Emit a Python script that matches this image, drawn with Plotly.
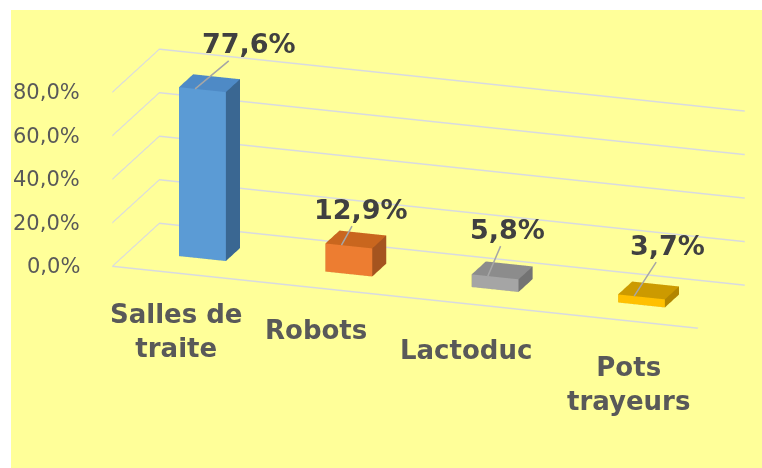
import plotly.graph_objects as go

categories = ["Salles de<br>traite", "Robots", "Lactoduc", "Pots<br>trayeurs"]
values = [77.6, 12.9, 5.8, 3.7]
tick_values = [0, 20, 40, 60, 80]
tick_labels = ["0,0%", "20,0%", "40,0%", "60,0%", "80,0%"]

# style: front, side, top colors per bar
front_colors = ["#5B9BD5", "#ED7D31", "#A5A5A5", "#FFC000"]
side_colors = ["#3A6792", "#A5541F", "#737373", "#B38600"]
top_colors = ["#4E8AC6", "#C9661E", "#8C8C8C", "#CC9A00"]

# style: label pixel offsets
value_label_dx = [54, 20, 20, 33]
value_label_dy = [-45, -36, -47, -51]
category_label_dx = [-9, -16, -12, 4]
category_label_dy = [-23, -24, -28, -30]

HALF_W = 0.16
Y0, Y1 = 0.36, 0.66

fig = go.Figure()

for i, v in enumerate(values):
    x0, x1 = i - HALF_W, i + HALF_W
    xs = [x0, x1, x1, x0, x0, x1, x1, x0]
    ys = [Y0, Y0, Y1, Y1, Y0, Y0, Y1, Y1]
    zs = [0, 0, 0, 0, v, v, v, v]
    tri = [
        (0, 1, 5), (0, 5, 4),      # front
        (1, 2, 6), (1, 6, 5),      # right
        (4, 5, 6), (4, 6, 7),      # top
        (3, 2, 6), (3, 6, 7),      # back
        (0, 3, 7), (0, 7, 4),      # left
        (0, 1, 2), (0, 2, 3),      # bottom
    ]
    fc = [front_colors[i]] * 2 + [side_colors[i]] * 2 + [top_colors[i]] * 2 + [side_colors[i]] * 6
    fig.add_trace(go.Mesh3d(
        x=xs, y=ys, z=zs,
        i=[t[0] for t in tri], j=[t[1] for t in tri], k=[t[2] for t in tri],
        facecolor=fc, flatshading=True,
        lighting=dict(ambient=1, diffuse=0, specular=0, roughness=1, fresnel=0),
        hoverinfo="skip", showscale=False,
    ))

FONT = "DejaVu Sans"
annotations = []
# value labels with leader lines (anchored on the front part of each bar top)
for i, v in enumerate(values):
    txt = f"{v:.1f}%".replace(".", ",")
    annotations.append(dict(
        x=i - 0.05, y=Y0, z=v, text=txt, showarrow=True, arrowhead=0, arrowwidth=1.5,
        arrowcolor="#A6A6A6", ax=value_label_dx[i], ay=value_label_dy[i],
        font=dict(family=FONT, size=27, color="#404040", weight="bold"),
    ))
# category labels
for i, c in enumerate(categories):
    annotations.append(dict(
        x=i, y=0, z=0, text=c, showarrow=False, yanchor="top", xanchor="center",
        xshift=category_label_dx[i], yshift=category_label_dy[i],
        font=dict(family=FONT, size=26, color="#595959", weight="bold"),
    ))
# value axis tick labels
for tv, tl in zip(tick_values, tick_labels):
    annotations.append(dict(
        x=-0.5, y=0, z=tv, text=tl, showarrow=False, xanchor="right", yanchor="middle",
        xshift=-30,
        font=dict(family=FONT, size=21, color="#595959"),
    ))

axis_common = dict(showbackground=False, showspikes=False, zeroline=False,
                   showticklabels=False, title=dict(text=""), ticks="")

CENTER = dict(x=-0.152, y=-0.1235, z=-0.209)
DIR = (0.306, -0.9, 0.311)
DIST = 3.0
EYE = dict(x=CENTER["x"] + DIST * DIR[0], y=CENTER["y"] + DIST * DIR[1],
           z=CENTER["z"] + DIST * DIR[2])

GRID = "#D8DAE0"

fig.update_layout(
    width=762, height=468,
    paper_bgcolor="white",
    margin=dict(l=11, t=10, r=0, b=0),
    showlegend=False,
    shapes=[dict(type="rect", xref="paper", yref="paper", x0=0, x1=1, y0=0, y1=1,
                 fillcolor="#FFFF99", line=dict(width=0), layer="below")],
    scene=dict(
        bgcolor="rgba(0,0,0,0)",
        domain=dict(x=[0, 1], y=[0, 1]),
        xaxis=dict(range=[-0.5, 3.5], showgrid=False, showline=True,
                   linecolor=GRID, linewidth=3, **axis_common),
        yaxis=dict(range=[0, 1], showgrid=False, showline=False, **axis_common),
        zaxis=dict(range=[0, 80], tickvals=tick_values, showgrid=True,
                   gridcolor=GRID, gridwidth=3, showline=False, **axis_common),
        aspectmode="manual",
        aspectratio=dict(x=2.70, y=0.638, z=0.80),
        camera=dict(eye=EYE, center=CENTER, up=dict(x=0, y=0, z=1),
                    projection=dict(type="orthographic")),
        annotations=annotations,
    ),
)

fig.write_html("out.html", config={"displayModeBar": False},
               post_script="document.body.style.margin='0';document.body.style.overflow='hidden';")
